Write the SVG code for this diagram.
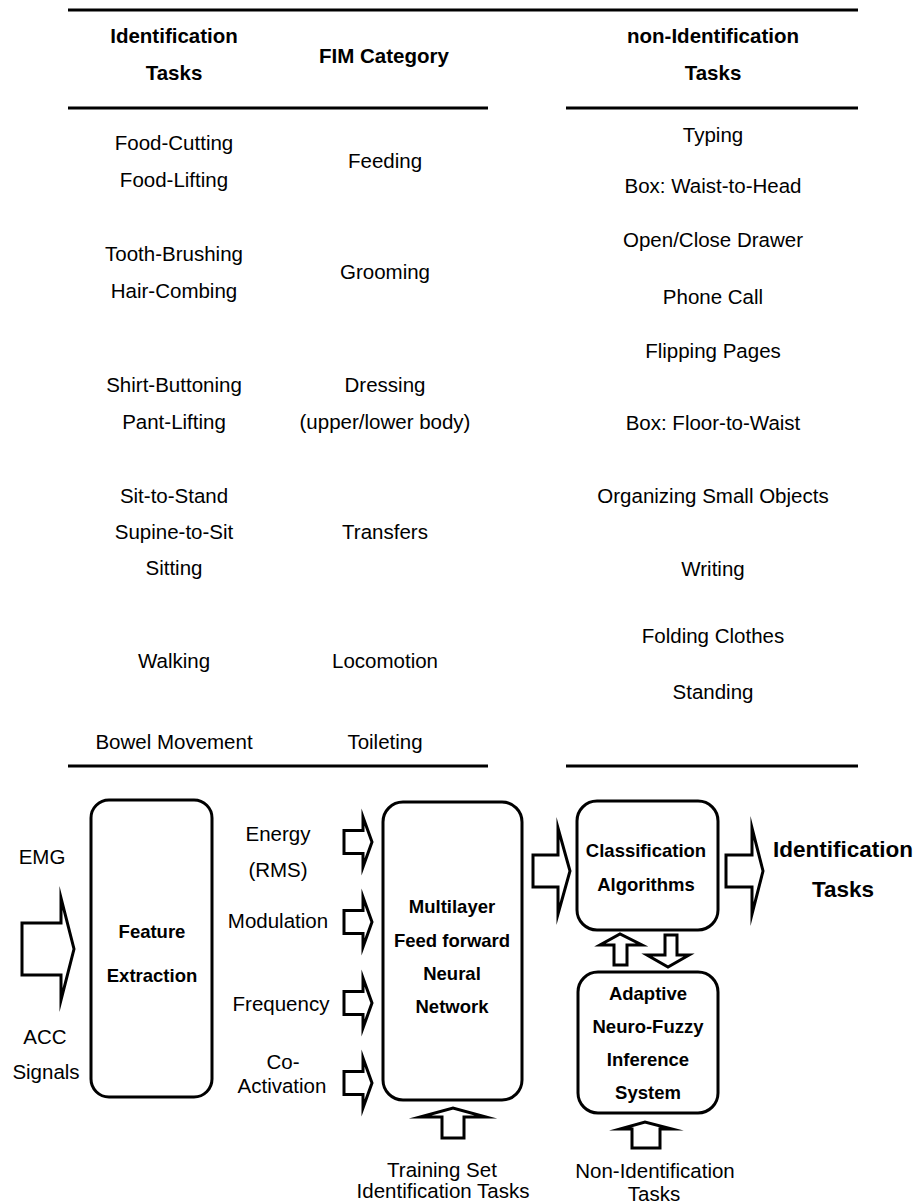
<svg xmlns="http://www.w3.org/2000/svg" width="918" height="1203" viewBox="0 0 918 1203">
<style>
text{font-family:"Liberation Sans",Arial,sans-serif;fill:#000;text-anchor:middle}
.r{font-size:20.5px}
.h{font-size:20.5px;font-weight:bold}
.b{font-size:18.5px;font-weight:bold}
.o{font-size:22.5px;font-weight:bold}
.rule{stroke:#000;stroke-width:3;fill:none}
.box{stroke:#000;stroke-width:3;fill:#fff}
.arr{stroke:#000;stroke-width:3;fill:#fff;stroke-linejoin:miter;stroke-miterlimit:20}
</style>
<rect width="918" height="1203" fill="#fff"/>
<g id="table">
<line class="rule" x1="68" y1="10" x2="858" y2="10"/>
<line class="rule" x1="68" y1="108" x2="488" y2="108"/>
<line class="rule" x1="566" y1="108" x2="858" y2="108"/>
<line class="rule" x1="68" y1="766" x2="488" y2="766"/>
<line class="rule" x1="566" y1="766" x2="858" y2="766"/>
<text class="h" x="174" y="43">Identification</text>
<text class="h" x="174" y="80">Tasks</text>
<text class="h" x="384" y="63">FIM Category</text>
<text class="h" x="713" y="43">non-Identification</text>
<text class="h" x="713" y="80">Tasks</text>
<text class="r" x="174" y="150">Food-Cutting</text>
<text class="r" x="174" y="187">Food-Lifting</text>
<text class="r" x="385" y="168">Feeding</text>
<text class="r" x="174" y="261">Tooth-Brushing</text>
<text class="r" x="174" y="298">Hair-Combing</text>
<text class="r" x="385" y="279">Grooming</text>
<text class="r" x="174" y="392">Shirt-Buttoning</text>
<text class="r" x="174" y="429">Pant-Lifting</text>
<text class="r" x="385" y="392">Dressing</text>
<text class="r" x="385" y="429">(upper/lower body)</text>
<text class="r" x="174" y="503">Sit-to-Stand</text>
<text class="r" x="174" y="539">Supine-to-Sit</text>
<text class="r" x="174" y="575">Sitting</text>
<text class="r" x="385" y="539">Transfers</text>
<text class="r" x="174" y="668">Walking</text>
<text class="r" x="385" y="668">Locomotion</text>
<text class="r" x="174" y="749">Bowel Movement</text>
<text class="r" x="385" y="749">Toileting</text>
<text class="r" x="713" y="142">Typing</text>
<text class="r" x="713" y="193">Box: Waist-to-Head</text>
<text class="r" x="713" y="247">Open/Close Drawer</text>
<text class="r" x="713" y="304">Phone Call</text>
<text class="r" x="713" y="358">Flipping Pages</text>
<text class="r" x="713" y="430">Box: Floor-to-Waist</text>
<text class="r" x="713" y="503">Organizing Small Objects</text>
<text class="r" x="713" y="576">Writing</text>
<text class="r" x="713" y="643">Folding Clothes</text>
<text class="r" x="713" y="699">Standing</text>
</g>
<g id="inputs">
<text class="r" x="42" y="864">EMG</text>
<text class="r" x="45" y="1044">ACC</text>
<text class="r" x="46" y="1079">Signals</text>
</g>
<g id="feature-extraction">
<rect class="box" x="91" y="800" width="121" height="297" rx="18"/>
<text class="b" x="152" y="938">Feature</text>
<text class="b" x="152" y="982">Extraction</text>
</g>
<g id="features">
<text class="r" x="278" y="841">Energy</text>
<text class="r" x="278" y="877">(RMS)</text>
<text class="r" x="278" y="928">Modulation</text>
<text class="r" x="281" y="1011">Frequency</text>
<text class="r" x="283" y="1069">Co-</text>
<text class="r" x="282" y="1093">Activation</text>
</g>
<g id="neural-network">
<rect class="box" x="383" y="802" width="139" height="298" rx="20"/>
<text class="b" x="452" y="913">Multilayer</text>
<text class="b" x="452" y="947">Feed forward</text>
<text class="b" x="452" y="980">Neural</text>
<text class="b" x="452" y="1013">Network</text>
</g>
<g id="training-label">
<text class="r" x="442" y="1177">Training Set</text>
<text class="r" x="443" y="1198">Identification Tasks</text>
</g>
<g id="classification">
<rect class="box" x="577" y="801" width="141" height="129" rx="20"/>
<text class="b" x="646" y="857">Classification</text>
<text class="b" x="646" y="891">Algorithms</text>
</g>
<g id="anfis">
<rect class="box" x="578" y="972" width="140" height="141" rx="20"/>
<text class="b" x="648" y="1000">Adaptive</text>
<text class="b" x="648" y="1033">Neuro-Fuzzy</text>
<text class="b" x="648" y="1066">Inference</text>
<text class="b" x="648" y="1099">System</text>
</g>
<g id="output">
<text class="o" x="843" y="857">Identification</text>
<text class="o" x="843" y="897">Tasks</text>
</g>
<g id="non-id-label">
<text class="r" x="655" y="1178">Non-Identification</text>
<text class="r" x="654" y="1201">Tasks</text>
</g>
<g id="connectors">
<polygon class="arr" points="22,923 61,923 61,898 74,949 61,1000 61,975 22,975"/>
<polygon class="arr" points="344,830.5 363,830.5 363,817 372,842 363,867 363,853.5 344,853.5"/>
<polygon class="arr" points="344,910.5 363,910.5 363,897 372,922 363,947 363,933.5 344,933.5"/>
<polygon class="arr" points="344,991.5 363,991.5 363,978 372,1003 363,1028 363,1014.5 344,1014.5"/>
<polygon class="arr" points="344,1071.5 363,1071.5 363,1058 372,1083 363,1108 363,1094.5 344,1094.5"/>
<polygon class="arr" points="533,855 558,855 558,828 570,871 558,914 558,887 533,887"/>
<polygon class="arr" points="726,855 752,855 752,828 763,871 752,914 752,887 726,887"/>
<polygon class="arr" points="442,1138 442,1117 420,1117 453,1108 486,1117 464,1117 464,1138"/>
<polygon class="arr" points="632,1148 632,1129 620,1129 645,1122 672,1129 660,1129 660,1148"/>
<polygon class="arr" points="614,965 614,945 600,945 620,934 642,945 627,945 627,965"/>
<polygon class="arr" points="665,935 677,935 677,955 689,955 668,967 647,955 665,955"/>
</g>
</svg>
